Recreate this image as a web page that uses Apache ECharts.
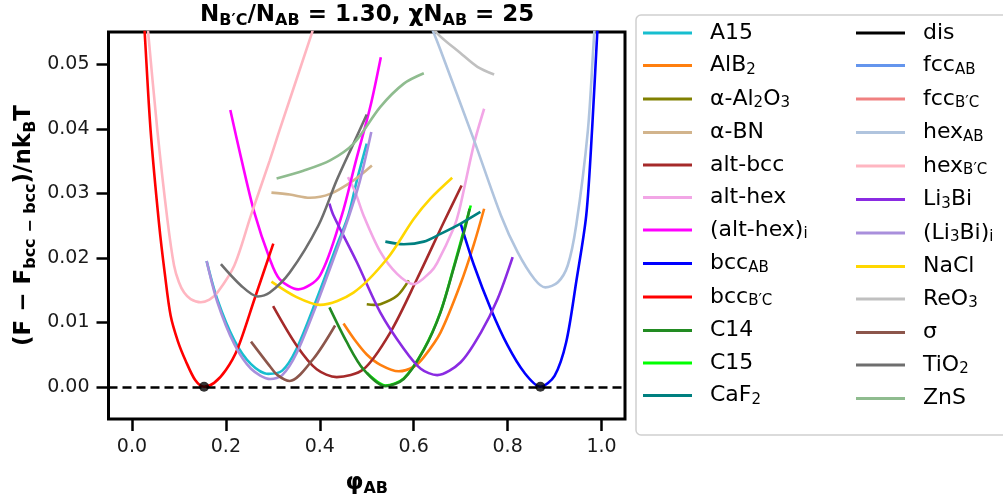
<!DOCTYPE html>
<html>
<head>
<meta charset="utf-8">
<script src="https://cdn.jsdelivr.net/npm/echarts@6/dist/echarts.min.js"></script>
<style>html,body{margin:0;padding:0;background:#fff;}#c{width:1003px;height:498px;}</style>
</head>
<body>
<div id="c"></div>
<script>
// ---- data (phi_AB, (F - F_bcc-bcc)/nkBT) ----
const xTickRange = [0, 1.0];   // tick labels 0.0 ... 1.0 every 0.2
const xTickStep = 0.2;
const yTickRange = [0, 0.05];  // tick labels 0.00 ... 0.05 every 0.01
const yTickStep = 0.01;
const xView = [-0.05, 1.05];
const yView = [-0.005, 0.055];

const A15 = [[0.159,0.0195],[0.182,0.0135],[0.218,0.0072],[0.2535,0.0035],[0.29,0.0020],[0.32,0.0025],[0.3506,0.0059],[0.3934,0.0136],[0.4362,0.0219],[0.461,0.0266],[0.479,0.0320],[0.50,0.0377]];
const AlB2 = [[0.4505,0.0098],[0.475,0.0072],[0.50,0.0050],[0.529,0.0034],[0.568,0.0024],[0.60,0.0031],[0.6215,0.0046],[0.657,0.0084],[0.70,0.0160],[0.7286,0.0222],[0.75,0.0276]];
const aAl2O3 = [[0.50,0.0128],[0.515,0.0127],[0.529,0.0128],[0.5646,0.0141],[0.5895,0.0165]];
const aBN = [[0.297,0.0301],[0.336,0.0298],[0.379,0.0293],[0.422,0.0299],[0.472,0.0320],[0.511,0.0343]];
const altBcc = [[0.3006,0.0125],[0.3506,0.0064],[0.3934,0.0027],[0.436,0.0015],[0.493,0.0027],[0.550,0.0084],[0.607,0.0167],[0.664,0.0255],[0.702,0.0312]];
const altHex = [[0.46,0.0325],[0.4754,0.0302],[0.493,0.0266],[0.529,0.0209],[0.5646,0.0175],[0.60,0.0159],[0.636,0.0178],[0.65,0.0192],[0.6857,0.0247],[0.6965,0.0272],[0.7286,0.0377],[0.75,0.0431]];
const altHexI = [[0.2094,0.0429],[0.232,0.0356],[0.2607,0.0270],[0.2935,0.0198],[0.3143,0.0167],[0.354,0.0151],[0.40,0.0172],[0.447,0.0266],[0.4754,0.0346],[0.5075,0.0434],[0.530,0.0511]];
const bccAB = [[0.700,0.0253],[0.7286,0.0188],[0.764,0.0121],[0.80,0.0064],[0.8355,0.0022],[0.8697,0.0],[0.90,0.0017],[0.9247,0.0069],[0.946,0.0162],[0.9675,0.0266],[0.98,0.040],[0.991,0.055],[0.997,0.062]];
const bccBC = [[0.022,0.061],[0.027,0.055],[0.0396,0.0398],[0.0576,0.0253],[0.07,0.0175],[0.0824,0.011],[0.098,0.0070],[0.1145,0.0040],[0.135,0.0010],[0.1535,0.0],[0.175,0.0006],[0.20,0.0026],[0.225,0.0059],[0.261,0.0136],[0.301,0.0222]];
const C14 = [[0.4205,0.0123],[0.4576,0.0069],[0.493,0.0027],[0.5396,0.0001],[0.5788,0.0012],[0.6215,0.0057],[0.657,0.0115],[0.6857,0.0185],[0.711,0.0250],[0.719,0.0276]];
const C15 = [[0.50,0.0022],[0.5396,0.0002],[0.5788,0.0013],[0.6215,0.0058],[0.657,0.0116],[0.6857,0.0187],[0.711,0.0254],[0.7215,0.0281]];
const CaF2 = [[0.5396,0.0225],[0.579,0.0221],[0.6215,0.0225],[0.657,0.0237],[0.70,0.0253],[0.742,0.0271]];
const dis = [];
const fccAB = [];
const fccBC = [];
const hexAB = [[0.63,0.057],[0.643,0.0548],[0.657,0.0522],[0.7286,0.0382],[0.7856,0.0266],[0.821,0.0209],[0.857,0.0167],[0.8804,0.0154],[0.907,0.0162],[0.928,0.0188],[0.946,0.0250],[0.971,0.0398],[0.985,0.0553],[0.992,0.0605]];
const hexBC = [[0.028,0.060],[0.034,0.0553],[0.054,0.0398],[0.0753,0.0260],[0.0896,0.0188],[0.10,0.0162],[0.111,0.0146],[0.125,0.0136],[0.1466,0.0131],[0.165,0.0135],[0.182,0.0146],[0.218,0.0188],[0.2535,0.0266],[0.2935,0.0351],[0.314,0.0397],[0.383,0.0548],[0.39,0.0565]];
const Li3Bi = [[0.4205,0.0284],[0.429,0.0266],[0.479,0.0193],[0.529,0.0115],[0.5788,0.0059],[0.615,0.0028],[0.65,0.0018],[0.70,0.0038],[0.743,0.0084],[0.7786,0.0136],[0.8107,0.0201]];
const Li3BiI = [[0.159,0.0195],[0.182,0.0131],[0.218,0.0066],[0.2535,0.0028],[0.295,0.0012],[0.32,0.0018],[0.3506,0.0052],[0.3934,0.0128],[0.4362,0.0212],[0.461,0.0262],[0.485,0.0318],[0.5097,0.0395]];
const NaCl = [[0.297,0.0163],[0.3506,0.0139],[0.4005,0.0127],[0.4718,0.0146],[0.543,0.0198],[0.600,0.0260],[0.636,0.0292],[0.682,0.0324]];
const ReO3 = [[0.63,0.057],[0.650,0.0548],[0.70,0.0517],[0.7357,0.0496],[0.7713,0.0484]];
const sigma = [[0.2535,0.0070],[0.2935,0.0032],[0.31,0.0018],[0.336,0.0009],[0.386,0.0043],[0.4326,0.0095]];
const TiO2 = [[0.1894,0.0190],[0.232,0.0157],[0.268,0.0140],[0.2935,0.0146],[0.336,0.0177],[0.397,0.0250],[0.436,0.0320],[0.4718,0.0377],[0.50,0.0422]];
const ZnS = [[0.308,0.0323],[0.365,0.0335],[0.422,0.0351],[0.472,0.0377],[0.529,0.0434],[0.579,0.0470],[0.6215,0.0486]];
const minima = [[0.1535,0],[0.8697,0]];

// names (legend order), display labels, colours
const names = ['A15','AlB2','a-Al2O3','a-BN','alt-bcc','alt-hex','(alt-hex)i','bccAB','bccBC','C14','C15','CaF2',
               'dis','fccAB','fccBC','hexAB','hexBC','Li3Bi','(Li3Bi)i','NaCl','ReO3','sigma','TiO2','ZnS'];
const labels = {
  'A15':'{n|A15}', 'AlB2':'{n|AlB}{s|2}', 'a-Al2O3':'{n|α-Al}{s|2}{n|O}{s|3}', 'a-BN':'{n|α-BN}',
  'alt-bcc':'{n|alt-bcc}', 'alt-hex':'{n|alt-hex}', '(alt-hex)i':'{n|(alt-hex)}{s|i}',
  'bccAB':'{n|bcc}{s|AB}', 'bccBC':'{n|bcc}{s|B′C}', 'C14':'{n|C14}', 'C15':'{n|C15}', 'CaF2':'{n|CaF}{s|2}',
  'dis':'{n|dis}', 'fccAB':'{n|fcc}{s|AB}', 'fccBC':'{n|fcc}{s|B′C}', 'hexAB':'{n|hex}{s|AB}', 'hexBC':'{n|hex}{s|B′C}',
  'Li3Bi':'{n|Li}{s|3}{n|Bi}', '(Li3Bi)i':'{n|(Li}{s|3}{n|Bi)}{s|i}', 'NaCl':'{n|NaCl}', 'ReO3':'{n|ReO}{s|3}',
  'sigma':'{n|σ}', 'TiO2':'{n|TiO}{s|2}', 'ZnS':'{n|ZnS}'
};
const colors = ['#17becf','#ff7f0e','#808000','#d2b48c','#a52a2a','#f2a6e6','#ff00ff','#0000ff','#ff0000','#228b22','#00ff00','#008080',
                '#000000','#6495ed','#f08080','#b0c4de','#ffb6c1','#8a2be2','#a98fdc','#ffd700','#c0c0c0','#8c564b','#6e6e6e','#8fbc8f'];
const datasets = [A15,AlB2,aAl2O3,aBN,altBcc,altHex,altHexI,bccAB,bccBC,C14,C15,CaF2,dis,fccAB,fccBC,hexAB,hexBC,Li3Bi,Li3BiI,NaCl,ReO3,sigma,TiO2,ZnS];

const FONT = 'DejaVu Sans';
const chart = echarts.init(document.getElementById('c'), null, {renderer:'canvas'});

// plot box geometry (pixels)
const PL = 108.5, PR = 625, PT = 32, PB = 419, TICK = 12;
const pxPerX = (PR - PL) / (xView[1] - xView[0]);
const pxPerY = (PB - PT) / (yView[1] - yView[0]);
const xTickLeft = PL + (xTickRange[0] - xView[0]) * pxPerX;
const xTickWidth = (xTickRange[1] - xTickRange[0]) * pxPerX;
const yTickTop = PT + (yView[1] - yTickRange[1]) * pxPerY;
const yTickHeight = (yTickRange[1] - yTickRange[0]) * pxPerY;
const OB = {left: -500, top: -500, right: -500, bottom: -500};

const series = names.map((nm, i) => ({
  name: nm, type: 'line', data: datasets[i], color: colors[i],
  xAxisIndex: 0, yAxisIndex: 0,
  showSymbol: false, symbol: 'none', smooth: 0.3, clip: true,
  z: nm === 'C15' ? 1 : 2,
  lineStyle: {width: 2.6, color: colors[i]},
  itemStyle: {color: colors[i]}
}));
series.push({
  name: 'minima', type: 'scatter', data: minima, symbolSize: 10, z: 6,
  xAxisIndex: 0, yAxisIndex: 0,
  itemStyle: {color: '#000'},
  markLine: {symbol: ['none','none'], silent: true, label: {show: false},
             lineStyle: {color: '#000', type: [9,5], width: 2.5}, data: [{yAxis: 0}]}
});

const legendRich = {
  n: {fontSize: 22, lineHeight: 24, fontFamily: FONT, color: '#000'},
  s: {fontSize: 15, lineHeight: 14, fontFamily: FONT, color: '#000', verticalAlign: 'bottom'}
};
function mkLegend(list, left) {
  return {
    data: list, left: left, top: 22, orient: 'vertical', padding: 0,
    itemWidth: 49, itemHeight: 3, itemGap: 10.5, icon: 'rect', selectedMode: false,
    formatter: n => labels[n],
    textStyle: {fontFamily: FONT, fontSize: 22, color: '#000', padding: [0,0,0,13], rich: legendRich}
  };
}
const nameRich = {
  n: {fontFamily: FONT, fontWeight: 'bold', fontSize: 23, lineHeight: 28, color: '#000'},
  s: {fontFamily: FONT, fontWeight: 'bold', fontSize: 16, lineHeight: 16, color: '#000', verticalAlign: 'bottom'}
};
// tick marks are drawn as split lines of thin grids lying just outside the plot frame
const tickLine = {show: true, lineStyle: {color: '#000', width: 2.5, type: 'solid'}};

const option = {
  animation: false,
  backgroundColor: '#fff',
  title: {
    text: '{n|N}{s|B′C}{n|/N}{s|AB}{n| = 1.30, χN}{s|AB}{n| = 25}',
    left: 200, top: 1, padding: 0,
    textStyle: {fontFamily: FONT, fontWeight: 'bold', fontSize: 23, rich: nameRich}
  },
  graphic: [{
    type: 'rect', z: -1, silent: true,
    shape: {x: 636, y: 15, width: 400, height: 420, r: 5},
    style: {fill: '#fff', stroke: '#cfcfcf', lineWidth: 1.5}
  }],
  legend: [mkLegend(names.slice(0,12), 643), mkLegend(names.slice(12), 856)],
  grid: [
    {left: PL, top: PT, width: PR - PL, height: PB - PT, containLabel: false, outerBounds: OB,
     show: true, borderColor: '#000', borderWidth: 3, backgroundColor: 'transparent'},
    {left: xTickLeft, top: PB, width: xTickWidth, height: TICK, containLabel: false, outerBounds: OB, show: false},
    {left: PL - TICK, top: yTickTop, width: TICK, height: yTickHeight, containLabel: false, outerBounds: OB, show: false}
  ],
  xAxis: [
    {gridIndex: 0, type: 'value', min: xView[0], max: xView[1], show: false},
    {gridIndex: 1, type: 'value', min: xTickRange[0], max: xTickRange[1], interval: xTickStep, position: 'bottom',
     name: '{n|φ}{s|AB}', nameLocation: 'middle', nameGap: 50 - TICK, nameTextStyle: {rich: nameRich},
     axisLine: {show: false, onZero: false}, axisTick: {show: false}, splitLine: tickLine,
     axisLabel: {margin: 19 - TICK, fontFamily: FONT, fontSize: 19, color: '#1a1a1a', formatter: v => v.toFixed(1)}},
    {gridIndex: 2, type: 'value', min: 1, max: 2, show: false}
  ],
  yAxis: [
    {gridIndex: 0, type: 'value', min: yView[0], max: yView[1], show: false},
    {gridIndex: 2, type: 'value', min: yTickRange[0], max: yTickRange[1], interval: yTickStep, position: 'left',
     name: '{n|(F − F}{s|bcc − bcc}{n|)/nk}{s|B}{n|T}', nameLocation: 'middle', nameGap: 70 - TICK, nameTextStyle: {rich: nameRich},
     axisLine: {show: false, onZero: false}, axisTick: {show: false}, splitLine: tickLine,
     axisLabel: {margin: 19 - TICK, fontFamily: FONT, fontSize: 19, color: '#1a1a1a', formatter: v => v.toFixed(2)}},
    {gridIndex: 1, type: 'value', min: 1, max: 2, show: false}
  ],
  series: series
};
chart.setOption(option);
</script>
</body>
</html>
